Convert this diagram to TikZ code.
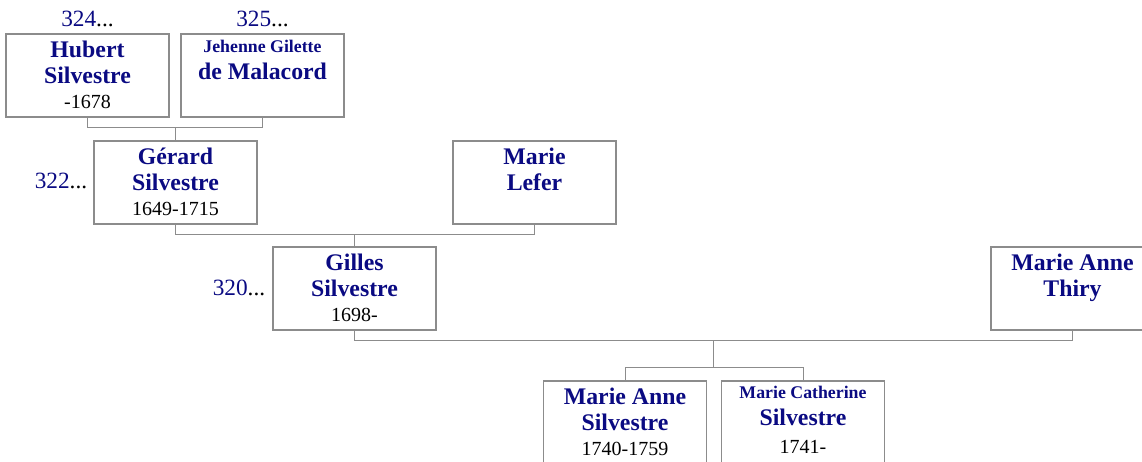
\documentclass[tikz,border=0pt]{standalone}
\usepackage{fontspec}
\setmainfont{Liberation Serif}
\usetikzlibrary{calc}
\definecolor{pnavy}{RGB}{10,10,130}
\definecolor{pline}{RGB}{140,140,140}
\newcommand{\pdatefont}{\mdseries\color{black}\fontsize{20}{26}\selectfont}
\newcommand{\psmallfont}{\fontsize{17.8}{26}\selectfont}
\tikzset{
  pbox/.style={draw=pline, line width=1.2pt, minimum width=163pt, minimum height=83pt, inner sep=0pt},
  pname/.style={anchor=north, align=center, inner sep=0pt, text=pnavy, font=\bfseries\fontsize{23.8}{26}\selectfont},
  pnum/.style={inner sep=0pt, text=pnavy, font=\fontsize{23.3}{26}\selectfont},
  plink/.style={draw=pline, line width=1pt}
}

\begin{document}
\begin{tikzpicture}[x=1pt, y=-1pt]
\path[use as bounding box, clip] (0,0) rectangle (1142,461);

% boxes
\node[pbox] (hubert) at (87.5,75.5) {};
\node[pbox] (jehenne) at (262.5,75.5) {};
\node[pbox] (gerard) at (175.5,182.5) {};
\node[pbox] (lefer) at (534.5,182.5) {};
\node[pbox] (gilles) at (354.5,288.5) {};
\node[pbox] (thiry) at (1072.5,288.5) {};
\node[pbox] (marieanne) at (625,422.5) {};
\node[pbox] (mariecath) at (803,422.5) {};

% names
\node[pname] (hubert-t) at (hubert.north) {\rule{0pt}{24pt}Hubert\\Silvestre\\[-1pt]{\pdatefont -1678}};
\node[pname] (jehenne-t) at (jehenne.north) {\rule{0pt}{19pt}{\psmallfont Jehenne Gilette}\\[1pt]de Malacord};
\node[pname] (gerard-t) at (gerard.north) {\rule{0pt}{24pt}Gérard\\Silvestre\\[-1pt]{\pdatefont 1649-1715}};
\node[pname] (lefer-t) at (lefer.north) {\rule{0pt}{24pt}Marie\\Lefer};
\node[pname] (gilles-t) at (gilles.north) {\rule{0pt}{24pt}Gilles\\Silvestre\\[-1pt]{\pdatefont 1698-}};
\node[pname] (thiry-t) at (thiry.north) {\rule{0pt}{24pt}Marie Anne\\Thiry};
\node[pname] (marieanne-t) at (marieanne.north) {\rule{0pt}{24pt}Marie Anne\\Silvestre\\[-1pt]{\pdatefont 1740-1759}};
\node[pname] (mariecath-t) at (mariecath.north) {\rule{0pt}{18pt}{\psmallfont Marie Catherine}\\[1pt]Silvestre\\[2pt]{\pdatefont 1741-}};

% numbers
\node[pnum, anchor=base] (n324) at ([yshift=7pt]hubert.north) {324\textcolor{black}{...}};
\node[pnum, anchor=base] (n325) at ([yshift=7pt]jehenne.north) {325\textcolor{black}{...}};
\node[pnum, anchor=base east] (n322) at ([xshift=-6pt, yshift=-6pt]gerard.west) {322\textcolor{black}{...}};
\node[pnum, anchor=base east] (n320) at ([xshift=-7pt, yshift=-7pt]gilles.west) {320\textcolor{black}{...}};

% links
\draw[plink] (hubert.south) -- ++(0,10) coordinate (c1) -| (jehenne.south);
\draw[plink] (gerard.north) -- (gerard.north |- c1);
\draw[plink] (gerard.south) -- ++(0,10) coordinate (c2) -| (lefer.south);
\draw[plink] (gilles.north) -- (gilles.north |- c2);
\draw[plink] (gilles.south) -- ++(0,10) -| (thiry.south);
\coordinate (c3) at ($(gilles.south)!0.5!(thiry.south)+(0,10)$);
\draw[plink] (marieanne.north) -- ++(0,-13) coordinate (c4) -| (mariecath.north);
\draw[plink] (c3) -- (c3 |- c4);
\end{tikzpicture}
\end{document}
